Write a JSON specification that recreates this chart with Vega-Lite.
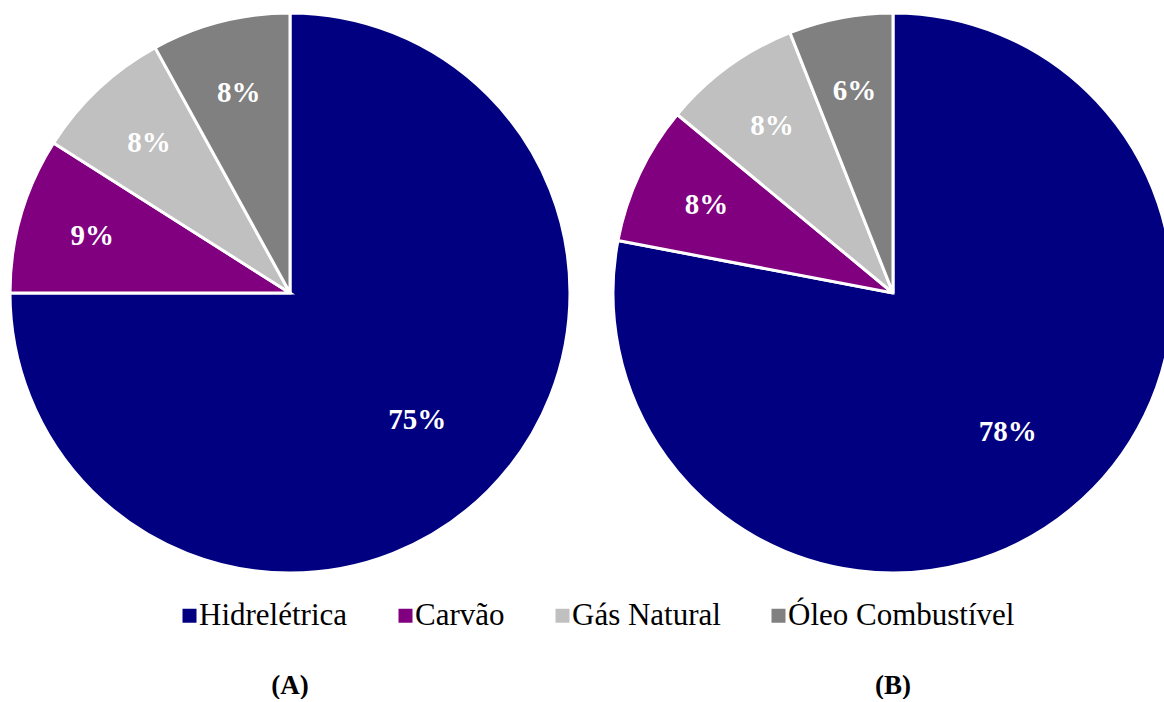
{
  "$schema": "https://vega.github.io/schema/vega-lite/v6.json",
  "background": "white",
  "padding": {"left": 4, "top": 7, "right": 0, "bottom": 0},
  "config": {
    "view": {"stroke": null},
    "font": "Liberation Serif"
  },
  "data": {
    "values": [
      {"painel": "(A)", "fonte": "Hidrelétrica", "ordem": 1, "valor": 0.75},
      {"painel": "(A)", "fonte": "Carvão", "ordem": 2, "valor": 0.09},
      {"painel": "(A)", "fonte": "Gás Natural", "ordem": 3, "valor": 0.08},
      {"painel": "(A)", "fonte": "Óleo Combustível", "ordem": 4, "valor": 0.08},
      {"painel": "(B)", "fonte": "Hidrelétrica", "ordem": 1, "valor": 0.78},
      {"painel": "(B)", "fonte": "Carvão", "ordem": 2, "valor": 0.08},
      {"painel": "(B)", "fonte": "Gás Natural", "ordem": 3, "valor": 0.08},
      {"painel": "(B)", "fonte": "Óleo Combustível", "ordem": 4, "valor": 0.06}
    ]
  },
  "facet": {
    "column": {
      "field": "painel",
      "type": "nominal",
      "header": {
        "title": null,
        "labelOrient": "bottom",
        "labelFont": "Liberation Serif",
        "labelFontSize": 27,
        "labelFontWeight": "bold",
        "labelColor": "black",
        "labelPadding": 94
      }
    }
  },
  "spacing": 31,
  "spec": {
    "width": 560,
    "height": 560,
    "encoding": {
      "theta": {"field": "valor", "type": "quantitative", "stack": true},
      "order": {"field": "ordem", "type": "quantitative"}
    },
    "layer": [
      {
        "mark": {"type": "arc", "outerRadius": 280, "stroke": "white", "strokeWidth": 3},
        "encoding": {
          "color": {
            "field": "fonte",
            "type": "nominal",
            "sort": ["Hidrelétrica", "Carvão", "Gás Natural", "Óleo Combustível"],
            "scale": {
              "domain": ["Hidrelétrica", "Carvão", "Gás Natural", "Óleo Combustível"],
              "range": ["#000080", "#800080", "#C0C0C0", "#808080"]
            },
            "legend": {
              "title": null,
              "orient": "none",
              "direction": "horizontal",
              "legendX": 164,
              "legendY": 587,
              "symbolType": "square",
              "symbolSize": 196,
              "symbolStrokeWidth": 0,
              "labelFont": "Liberation Serif",
              "labelFontSize": 31,
              "labelColor": "black",
              "labelLimit": 400,
              "labelOffset": -6,
              "columnPadding": 42
            }
          }
        }
      },
      {
        "mark": {
          "type": "text",
          "radius": {"expr": "datum.fonte === 'Hidrelétrica' ? 180 : 206"},
          "fill": "white",
          "fontSize": 29,
          "fontWeight": "bold",
          "font": "Liberation Serif"
        },
        "encoding": {
          "text": {"field": "valor", "type": "quantitative", "format": ".0%"}
        }
      }
    ]
  }
}
